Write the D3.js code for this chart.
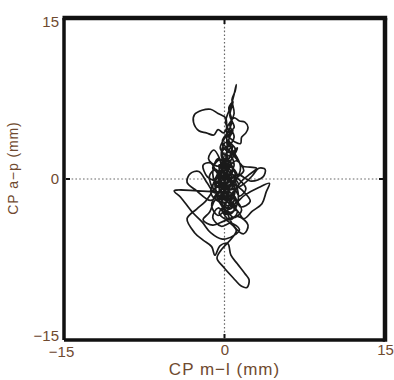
<!DOCTYPE html>
<html><head><meta charset="utf-8">
<script src="https://cdn.jsdelivr.net/npm/d3@7"></script>
<style>
html,body{margin:0;padding:0;background:#fff;}
svg{display:block;}
</style></head>
<body>
<svg id="chart" width="394" height="380"></svg>
<script>
// Tick values
const xTicks = [-15, 0, 15];
const yTicks = [-15, 0, 15];
// Axis titles
const xTitle = "CP m\u2212l (mm)";
const yTitle = "CP a\u2212p (mm)";
// Centre-of-pressure trajectory: [m-l (mm), a-p (mm)] samples
const cpTrace = [
[0.0,0.0],[0.2,0.3],[-0.4,1.2],[0.3,2.1],[-0.2,0.8],[0.6,-0.5],[-0.3,-1.4],[0.4,-2.2],[1.0,-1.0],[0.1,0.4],
[-0.8,-0.6],[-0.2,-2.6],[0.7,-3.1],[1.3,-1.8],[0.5,0.9],[-0.6,1.9],[-1.1,0.5],[-0.5,-0.8],[0.9,-0.2],[1.5,1.1],
[0.8,2.6],[0.1,3.4],[-0.3,2.2],[0.4,1.0],[0.2,2.8],[0.5,4.2],[0.1,5.3],[0.6,6.8],[0.9,7.9],[1.1,8.8],
[1.0,8.2],[0.7,7.4],[0.9,6.1],[0.5,5.0],[0.9,3.9],[0.3,3.0],[0.2,4.6],[0.1,5.7],[-0.6,6.1],[-1.3,6.5],
[-2.1,6.4],[-2.8,6.0],[-2.9,5.3],[-2.4,4.5],[-1.7,4.3],[-1.0,4.1],[-0.6,4.6],[-0.1,4.3],[0.4,5.1],[0.9,5.7],
[1.4,5.4],[1.9,5.3],[2.2,4.8],[2.0,4.3],[1.6,3.9],[1.5,3.3],[0.9,3.5],[0.2,4.0],[-0.2,3.2],[0.6,2.4],
[1.2,2.9],[0.5,1.6],[-0.5,0.4],[-1.3,1.5],[-2.0,1.3],[-1.6,0.2],[-0.7,-0.3],[0.3,-1.0],[1.6,-0.6],[2.6,0.3],
[3.2,1.0],[3.8,0.9],[3.6,0.2],[2.5,-0.2],[1.2,0.4],[0.2,-0.5],[-0.9,-1.3],[-1.6,-0.4],[-2.4,0.7],[-3.2,0.5],
[-3.5,-0.3],[-2.6,-1.1],[-1.3,-2.0],[-0.4,-1.5],[0.7,-2.4],[1.9,-1.5],[3.2,-0.8],[4.2,-0.4],[3.9,-1.2],[3.5,-2.3],
[2.6,-3.0],[1.8,-3.7],[1.1,-2.9],[0.2,-3.3],[-0.6,-2.7],[-1.1,-3.6],[-0.3,-4.4],[0.6,-4.1],[1.4,-4.7],[0.8,-5.3],
[-0.2,-5.6],[-1.3,-5.0],[-2.1,-4.0],[-3.0,-3.1],[-4.1,-1.7],[-4.7,-1.1],[-2.5,-1.1],[-0.6,-1.2],[0.5,-1.3],[-0.5,-0.6],
[-1.8,-2.1],[-2.6,-2.8],[-3.5,-3.7],[-2.8,-5.0],[-2.0,-5.7],[-1.2,-6.3],[-0.9,-7.1],[-0.4,-6.2],[0.3,-6.0],[0.6,-7.1],
[1.2,-7.9],[1.9,-8.8],[2.3,-9.4],[2.1,-10.1],[1.6,-10.0],[0.8,-9.2],[-0.1,-8.2],[-0.7,-7.4],[-0.3,-6.6],[0.7,-5.5],
[1.1,-4.8],[0.4,-4.0],[-0.5,-3.2],[0.2,-2.1],[-0.8,-1.9],[-1.4,-3.1],[-2.0,-3.8],[-1.1,-4.3],[0.0,-3.9],[1.3,-3.5],
[2.2,-4.3],[1.8,-5.1],[0.9,-4.4],[0.3,-3.0],[0.9,-1.6],[1.5,-2.6],[2.4,-2.1],[1.6,-1.0],[0.4,-0.2],[-0.4,0.5],
[-1.1,1.0],[-0.4,1.8],[0.3,1.2],[1.1,1.7],[1.8,0.8],[1.0,0.0],[0.0,-0.8],[-0.6,0.2],[-0.1,1.0],[0.6,0.4],
[0.2,-1.6],[-0.4,-2.2],[0.5,-2.8],[1.1,-2.0],[0.4,-1.1],[-0.3,-0.3],[0.3,0.6],[-0.2,2.6],[0.7,3.2],[0.3,1.7],
[-0.7,1.2],[-1.5,1.9],[-1.0,2.7],[-0.5,2.0],[0.0,0.2],[0.4,1.4],[0.1,2.3],[0.6,3.0],[0.2,3.8],[0.8,4.5],
[0.4,3.6],[1.0,2.8],[0.5,2.0],[-0.2,1.5],[0.3,0.7],[-0.6,-0.2],[-0.1,-1.0],[0.7,-0.6],[1.2,0.3],[0.6,1.1],
[-0.3,0.6],[-0.9,-0.5],[-0.4,-1.8],[0.3,-2.5],[1.0,-2.0],[1.6,-2.9],[0.9,-3.6],[0.1,-3.0],[-0.6,-3.4],[-1.2,-2.5],
[-0.7,-1.4],[0.2,-1.2],[0.9,-0.9],[1.4,-1.6],[2.0,-0.9],[1.3,0.0],[0.5,0.5],[-0.2,0.0],[-0.8,0.9],[-1.4,0.3],
[-1.0,-0.9],[-0.3,-0.6],[0.3,-1.8],[-0.2,-2.9],[0.5,-3.8],[1.2,-3.1],[0.6,-2.2],[0.0,-1.5],[-0.5,-0.9],[0.1,-0.1],
[0.8,0.8],[0.3,1.9],[-0.4,2.9],[0.2,4.1],[0.7,5.4],[0.4,6.6],[0.8,7.2],[0.5,5.9],[0.9,4.8],[0.3,4.3],
[-0.2,3.5],[0.5,2.6],[1.1,1.9],[1.7,1.2],[2.4,1.1],[3.0,1.0],[2.3,0.4],[1.5,-0.3],[0.8,-1.4],[0.1,-2.2],
[-0.7,-2.0],[-1.3,-1.2],[-0.8,0.0],[-0.2,0.9],[0.4,0.1],[0.9,-0.4],[0.5,-1.0],[-0.1,-0.5],[-0.5,0.3],[0.0,1.2],
[0.6,1.6],[0.2,0.5],[-0.4,-0.4],[0.3,-1.4],[0.9,-1.9],[0.4,-2.7],[-0.3,-2.3],[-0.9,-1.6],[-0.4,-1.1],[0.2,-0.3],
[0.7,0.2],[1.3,-0.5],[0.8,-1.2],[0.1,-1.9],[-0.6,-1.5],[-1.1,-0.8],[-0.6,0.6],[-0.1,1.7],[0.5,2.2],[0.9,1.3],
[0.3,0.2],[-0.3,-1.0],[0.2,-2.0],[0.8,-2.6],[1.3,-2.2],[0.7,-1.7],[0.1,-1.3],[-0.5,-1.8],[-0.2,-2.6],[0.4,-3.3],
[0.9,-2.9],[0.5,-1.9],[-0.1,-0.9],[0.4,-0.2],[0.1,0.9],[-0.5,1.3],[-0.2,0.1],[0.5,-0.7],[1.0,0.5],[0.4,1.3],
[-0.1,0.4],[0.2,-0.6]
];

const svg = d3.select("#chart");
const L = 64, R = 385, T = 18, B = 340;
const x = d3.scaleLinear().domain([-15, 15]).range([L, R]);
const y = d3.scaleLinear().domain([-15, 15]).range([B, T]);
const labelColor = "#6f4a2f";
const font = "Liberation Sans, Arial, Helvetica, sans-serif";

// dotted crosshair
svg.append("line").attr("x1", x(-15)).attr("x2", x(15)).attr("y1", y(0)).attr("y2", y(0))
  .attr("stroke", "#666").attr("stroke-width", 1.2).attr("stroke-dasharray", "1.6,2.2");
svg.append("line").attr("y1", y(-15)).attr("y2", y(15)).attr("x1", x(0)).attr("x2", x(0))
  .attr("stroke", "#666").attr("stroke-width", 1.2).attr("stroke-dasharray", "1.6,2.2");
// small tick marks at the crosshair ends
[[x(0), T + 2, x(0), T + 6], [x(0), B - 2, x(0), B - 6], [L + 2, y(0), L + 6, y(0)], [R - 2, y(0), R - 6, y(0)]]
  .forEach(d => svg.append("line").attr("x1", d[0]).attr("y1", d[1]).attr("x2", d[2]).attr("y2", d[3])
    .attr("stroke", "#111").attr("stroke-width", 2));

// trajectory
svg.append("path").datum(cpTrace)
  .attr("d", d3.line().x(d => x(d[0])).y(d => y(d[1])).curve(d3.curveCatmullRom.alpha(0.5)))
  .attr("fill", "none").attr("stroke", "#1a1a1a").attr("stroke-width", 1.7)
  .attr("stroke-linejoin", "round");

// frame
svg.append("line").attr("x1", L).attr("x2", L).attr("y1", T).attr("y2", B).attr("stroke", "#111").attr("stroke-width", 3.5);
svg.append("line").attr("x1", L).attr("x2", R).attr("y1", B).attr("y2", B).attr("stroke", "#111").attr("stroke-width", 3.5);
svg.append("line").attr("x1", L - 1.5).attr("x2", R + 2.2).attr("y1", T).attr("y2", T).attr("stroke", "#111").attr("stroke-width", 4.5);
svg.append("line").attr("x1", R).attr("x2", R).attr("y1", T).attr("y2", B + 1.7).attr("stroke", "#111").attr("stroke-width", 4.5);

// axes (labels only)
const ya = svg.append("g").attr("transform", `translate(${L - 2},0)`)
  .call(d3.axisLeft(y).tickValues(yTicks).tickSize(0).tickPadding(3));
const xa = svg.append("g").attr("transform", `translate(0,${B + 1})`)
  .call(d3.axisBottom(x).tickValues(xTicks).tickSize(0).tickPadding(3));
[ya, xa].forEach(g => {
  g.select(".domain").remove();
  g.selectAll("text").attr("fill", labelColor).style("font-family", font).style("font-size", "15px");
});
ya.selectAll("text").filter(d => d === 15).attr("dy", "0.55em");
ya.selectAll("text").filter(d => d === -15).attr("dy", "0.05em");
xa.selectAll("text").filter(d => d === -15).attr("dx", "-0.2em").attr("dy", "0.85em");

svg.append("text").attr("x", x(0)).attr("y", 375).attr("text-anchor", "middle")
  .attr("fill", labelColor).style("font-family", font).style("font-size", "17px").style("letter-spacing", "1px")
  .text(xTitle);
svg.append("text").attr("transform", `translate(18,${168}) rotate(-90)`).attr("text-anchor", "middle")
  .attr("fill", labelColor).style("font-family", font).style("font-size", "14px").style("letter-spacing", "0.9px")
  .text(yTitle);
</script>
</body></html>
